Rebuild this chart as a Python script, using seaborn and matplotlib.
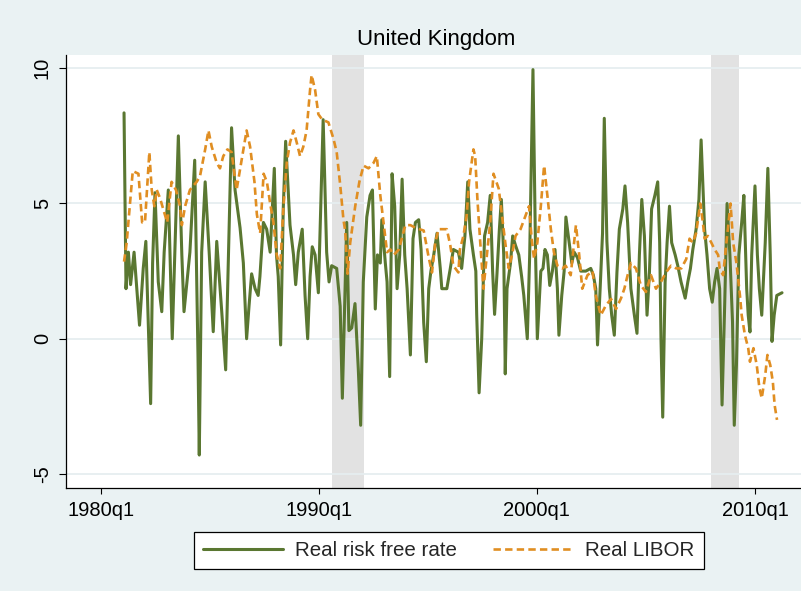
import matplotlib
matplotlib.use("Agg")
import matplotlib.pyplot as plt
import seaborn as sns
import pandas as pd

# ---------------- data (decimal years) ----------------
rf_dates = [1981.07, 1981.16, 1981.27, 1981.37, 1981.53, 1981.78, 1981.95, 1982.07, 1982.29, 1982.38,
            1982.49, 1982.64, 1982.80, 1982.91, 1983.10, 1983.28, 1983.56, 1983.72, 1983.82, 1984.09,
            1984.31, 1984.46, 1984.52, 1984.63, 1984.79, 1984.98, 1985.16, 1985.32, 1985.55, 1985.73,
            1986.00, 1986.16, 1986.39, 1986.54, 1986.69, 1986.80, 1986.92, 1987.08, 1987.22, 1987.30,
            1987.46, 1987.61, 1987.77, 1987.96, 1988.06, 1988.14, 1988.25, 1988.37, 1988.48, 1988.68,
            1988.84, 1988.94, 1989.06, 1989.24, 1989.37, 1989.49, 1989.60, 1989.70, 1989.83, 1989.98,
            1990.20, 1990.36, 1990.47, 1990.59, 1990.82, 1990.98, 1991.08, 1991.28, 1991.38, 1991.51,
            1991.66, 1991.81, 1991.92, 1992.04, 1992.20, 1992.35, 1992.46, 1992.59, 1992.69, 1992.82,
            1992.89, 1993.05, 1993.13, 1993.25, 1993.36, 1993.48, 1993.59, 1993.71, 1993.82, 1993.94,
            1994.05, 1994.20, 1994.32, 1994.43, 1994.58, 1994.69, 1994.81, 1994.93, 1995.04, 1995.14,
            1995.27, 1995.42, 1995.57, 1995.64, 1995.87, 1996.03, 1996.17, 1996.40, 1996.55, 1996.70,
            1996.83, 1996.93, 1997.09, 1997.20, 1997.24, 1997.35, 1997.47, 1997.60, 1997.74, 1997.86,
            1997.97, 1998.06, 1998.17, 1998.28, 1998.37, 1998.48, 1998.55, 1998.63, 1998.79, 1998.89,
            1999.02, 1999.17, 1999.30, 1999.40, 1999.56, 1999.67, 1999.82, 1999.94, 2000.02, 2000.18,
            2000.28, 2000.37, 2000.48, 2000.59, 2000.71, 2000.83, 2000.94, 2001.01, 2001.14, 2001.25,
            2001.33, 2001.48, 2001.60, 2001.71, 2001.86, 2002.01, 2002.24, 2002.47, 2002.59, 2002.70,
            2002.78, 2002.90, 2003.01, 2003.09, 2003.21, 2003.32, 2003.43, 2003.55, 2003.67, 2003.78,
            2003.94, 2004.04, 2004.16, 2004.31, 2004.47, 2004.59, 2004.70, 2004.81, 2004.93, 2005.05,
            2005.16, 2005.26, 2005.41, 2005.54, 2005.63, 2005.69, 2005.77, 2005.88, 2005.97, 2006.08,
            2006.18, 2006.34, 2006.46, 2006.61, 2006.80, 2006.92, 2007.04, 2007.15, 2007.30, 2007.43,
            2007.53, 2007.61, 2007.69, 2007.80, 2007.92, 2008.04, 2008.15, 2008.26, 2008.38, 2008.49,
            2008.61, 2008.72, 2008.85, 2008.97, 2009.05, 2009.15, 2009.26, 2009.39, 2009.49, 2009.62,
            2009.69, 2009.77, 2009.85, 2010.00, 2010.11, 2010.20, 2010.31, 2010.47, 2010.59, 2010.70,
            2010.78, 2010.88, 2011.00, 2011.24]
rf_values = [8.35, 1.85, 3.2, 2.0, 3.2, 0.5, 2.6, 3.6, -2.4, 2.8,
             5.4, 2.1, 1.0, 3.2, 5.5, 0.0, 7.5, 3.1, 1.0, 3.2,
             6.6, -0.6, -4.3, 3.2, 5.8, 3.1, 0.26, 3.6, 1.0, -1.15,
             7.8, 5.5, 4.1, 2.8, 0.0, 1.2, 2.4, 1.85, 1.6, 2.3,
             4.3, 4.05, 3.2, 6.3, 3.1, 2.3, -0.23, 4.8, 7.3, 4.2,
             3.1, 2.0, 3.2, 4.05, 1.6, 0.0, 2.3, 3.4, 3.1, 1.7,
             8.1, 3.2, 2.1, 2.7, 2.6, 1.2, -2.2, 4.3, 0.3, 0.4,
             1.3, -1.1, -3.2, 2.1, 4.5, 5.3, 5.5, 1.1, 3.1, 2.8,
             4.4, 2.8, 2.1, -1.4, 6.1, 4.9, 1.85, 3.1, 5.9, 3.1,
             1.85, -0.6, 3.7, 4.3, 4.4, 3.3, 0.6, -0.85, 1.85, 2.5,
             3.1, 3.9, 2.6, 1.85, 1.85, 2.6, 3.3, 3.2, 2.6, 3.8,
             5.8, 4.05, 3.1, 2.5, 0.9, -2.0, 0.0, 3.8, 4.3, 5.3,
             2.5, 0.9, 2.4, 4.05, 5.15, 3.1, -1.3, 1.85, 2.8, 3.8,
             3.45, 3.1, 2.3, 1.6, 0.0, 3.1, 9.95, 3.1, 0.0, 2.5,
             2.6, 3.3, 3.1, 1.97, 2.5, 3.3, 1.85, 0.13, 1.6, 2.5,
             4.5, 3.55, 2.8, 3.2, 3.0, 2.5, 2.5, 2.6, 2.35, 1.85,
             -0.23, 1.85, 3.9, 8.15, 3.6, 1.85, 0.87, 0.13, 2.45, 4.05,
             4.8, 5.65, 4.3, 1.85, 0.87, 0.2, 3.1, 5.15, 3.8, 0.87,
             2.45, 4.8, 5.3, 5.8, 3.55, 0.0, -2.9, 2.1, 3.55, 4.9,
             3.55, 3.1, 2.7, 2.1, 1.5, 2.1, 2.6, 3.3, 4.05, 5.15,
             7.35, 5.75, 4.05, 3.1, 1.85, 1.35, 2.1, 2.6, 1.85, -2.45,
             1.23, 5.0, 3.1, 0.62, -3.2, -0.97, 3.1, 4.3, 5.3, 1.85,
             0.87, 0.25, 3.1, 5.65, 3.1, 1.85, 0.87, 3.55, 6.3, 3.1,
             -0.1, 0.87, 1.6, 1.7]

libor_dates = [1981.07, 1981.19, 1981.27, 1981.47, 1981.73, 1981.90, 1982.03, 1982.23, 1982.34, 1982.46,
               1982.57, 1982.72, 1982.90, 1983.05, 1983.25, 1983.45, 1983.64, 1983.72, 1983.87, 1984.09,
               1984.40, 1984.55, 1984.79, 1984.94, 1985.09, 1985.32, 1985.47, 1985.62, 1985.81, 1986.00,
               1986.23, 1986.48, 1986.69, 1986.85, 1987.05, 1987.16, 1987.31, 1987.47, 1987.62, 1987.77,
               1987.92, 1988.07, 1988.23, 1988.38, 1988.53, 1988.68, 1988.84, 1988.99, 1989.14, 1989.29,
               1989.44, 1989.60, 1989.67, 1989.83, 1989.98, 1990.16, 1990.44, 1990.67, 1990.82, 1990.98,
               1991.13, 1991.21, 1991.32, 1991.44, 1991.67, 1991.86, 1992.05, 1992.28, 1992.51, 1992.66,
               1992.82, 1992.97, 1993.13, 1993.28, 1993.44, 1993.67, 1993.97, 1994.20, 1994.43, 1994.81,
               1995.04, 1995.19, 1995.34, 1995.49, 1995.87, 1996.03, 1996.17, 1996.40, 1996.47, 1996.63,
               1996.78, 1996.89, 1997.09, 1997.17, 1997.27, 1997.40, 1997.55, 1997.71, 1997.86, 1998.01,
               1998.25, 1998.40, 1998.55, 1998.71, 1998.86, 1999.02, 1999.25, 1999.48, 1999.64, 1999.76,
               1999.87, 2000.02, 2000.18, 2000.33, 2000.48, 2000.64, 2000.78, 2000.94, 2001.17, 2001.32,
               2001.55, 2001.79, 2001.94, 2002.08, 2002.32, 2002.55, 2002.70, 2002.93, 2003.16, 2003.40,
               2003.63, 2003.86, 2004.01, 2004.16, 2004.31, 2004.54, 2004.77, 2005.00, 2005.23, 2005.46,
               2005.69, 2005.92, 2006.15, 2006.39, 2006.62, 2006.85, 2007.00, 2007.15, 2007.30, 2007.49,
               2007.61, 2007.69, 2007.84, 2008.00, 2008.15, 2008.31, 2008.38, 2008.54, 2008.69, 2008.88,
               2009.00, 2009.15, 2009.31, 2009.39, 2009.54, 2009.69, 2009.77, 2009.93, 2010.08, 2010.20,
               2010.31, 2010.47, 2010.57, 2010.70, 2010.82, 2010.90, 2011.01]
libor_values = [2.85, 3.55, 4.3, 6.2, 6.1, 4.3, 4.3, 6.9, 5.5, 4.9,
                5.5, 5.2, 4.7, 4.3, 5.8, 5.5, 4.9, 4.2, 4.9, 5.5,
                5.8, 6.0, 7.0, 7.7, 7.1, 6.5, 6.3, 6.75, 7.0, 6.9,
                5.5, 6.7, 7.7, 7.1, 5.8, 4.6, 3.9, 6.1, 5.8, 5.0,
                4.3, 3.1, 2.6, 4.9, 6.5, 7.25, 7.7, 7.25, 6.75, 7.1,
                7.7, 9.2, 9.75, 9.2, 8.3, 8.1, 8.0, 7.4, 6.9, 5.7,
                4.4, 4.0, 2.4, 3.55, 4.9, 5.8, 6.4, 6.3, 6.5, 6.75,
                5.3, 4.3, 3.2, 3.3, 3.1, 3.3, 4.2, 4.2, 4.1, 4.0,
                3.0, 2.45, 3.55, 4.05, 4.05, 3.45, 2.7, 2.45, 3.3, 3.8,
                4.55, 5.8, 7.0, 6.75, 5.2, 3.6, 1.85, 3.1, 4.3, 6.1,
                5.55, 4.55, 3.55, 2.6, 3.1, 3.8, 4.05, 4.55, 4.9, 3.7,
                2.95, 3.55, 4.9, 6.4, 5.3, 4.05, 3.2, 2.7, 2.6, 2.7,
                2.35, 4.2, 3.1, 1.85, 2.35, 2.5, 1.6, 0.87, 1.23, 1.47,
                1.1, 1.5, 1.85, 2.35, 2.8, 2.6, 1.97, 1.73, 2.35, 1.85,
                2.1, 2.45, 2.7, 2.6, 2.6, 2.95, 3.7, 3.55, 3.9, 5.0,
                4.3, 3.7, 3.8, 3.55, 3.3, 3.1, 2.6, 2.35, 3.55, 5.0,
                3.55, 2.8, 1.6, 0.87, 0.13, -0.35, -0.85, -0.35, -0.97, -1.8,
                -2.2, -1.35, -0.6, -0.97, -1.6, -2.45, -3.0]

recessions = [(1990.60, 1992.05), (2008.00, 2009.25)]
tick_years = [1980, 1990, 2000, 2010]
tick_labels = ["1980q1", "1990q1", "2000q1", "2010q1"]
y_ticks = [-5, 0, 5, 10]
series_names = ["Real risk free rate", "Real LIBOR"]
title = "United Kingdom"

# ---------------- styling ----------------
sns.set_style("white")
plt.rcParams["font.family"] = ["Liberation Sans", "DejaVu Sans"]

W, H = 801, 591
fig = plt.figure(figsize=(W / 100, H / 100), dpi=100)
fig.patch.set_facecolor("#EAF2F3")

left_px, right_px, top_px, bottom_px = 65.7, 801, 55, 487.5
ax = fig.add_axes([left_px / W, 1 - bottom_px / H, (right_px - left_px) / W, (bottom_px - top_px) / H])
ax.set_facecolor("white")

green = "#5A7731"
orange = "#E08E22"

for a, b in recessions:
    ax.axvspan(a, b, color="#E2E2E2", lw=0, zorder=0)

for yv in y_ticks:
    ax.axhline(yv, color="#E6EEF0", lw=1.3, zorder=0.5)

df_rf = pd.DataFrame({"date": rf_dates, "value": rf_values})
df_lib = pd.DataFrame({"date": libor_dates, "value": libor_values})

sns.lineplot(data=df_rf, x="date", y="value", ax=ax, color=green, linewidth=2.2,
             estimator=None, sort=False, label=series_names[0], zorder=2)
sns.lineplot(data=df_lib, x="date", y="value", ax=ax, color=orange, linewidth=1.9,
             estimator=None, sort=False, label=series_names[1], zorder=3)
ax.lines[-1].set_dashes([2.8, 1.6])

ax.set_xlim(1978.395, 2012.11)
ax.set_ylim(-5.5, 10.49)
ax.set_xticks(tick_years)
ax.set_xticklabels(tick_labels)
ax.set_yticks(y_ticks)
ax.set_yticklabels([str(v) for v in y_ticks])
ax.set_xlabel("")
ax.set_ylabel("")

for s in ["top", "right"]:
    ax.spines[s].set_visible(False)
for s in ["left", "bottom"]:
    ax.spines[s].set_color("black")
    ax.spines[s].set_linewidth(0.9)

ax.tick_params(axis="x", direction="out", length=4.3, width=0.8, color="black",
               pad=5.3, labelsize=14.5, labelcolor="black", bottom=True)
ax.tick_params(axis="y", direction="out", length=5.0, width=0.8, color="black",
               pad=4.9, labelsize=14.5, labelcolor="black", left=True)
for lab in ax.get_yticklabels():
    lab.set_rotation(90)
    lab.set_va("center")

fig.text(435.7 / W, 1 - 39 / H, title, ha="center", va="center", fontsize=16, color="black")

handles, labels = ax.get_legend_handles_labels()
ax.get_legend().remove()
leg = fig.legend(handles, labels, loc="center", bbox_to_anchor=(449 / W, 1 - 550.5 / H),
                 ncol=2, fontsize=14.8, frameon=True, fancybox=False, edgecolor="black",
                 facecolor="white", framealpha=1, handlelength=3.85, handletextpad=0.63,
                 columnspacing=1.75, borderpad=0.45)
leg.get_frame().set_linewidth(0.9)
leg.legend_handles[1].set_dashes([2.8, 1.6])

fig.savefig("out.png", dpi=100, facecolor=fig.get_facecolor())
